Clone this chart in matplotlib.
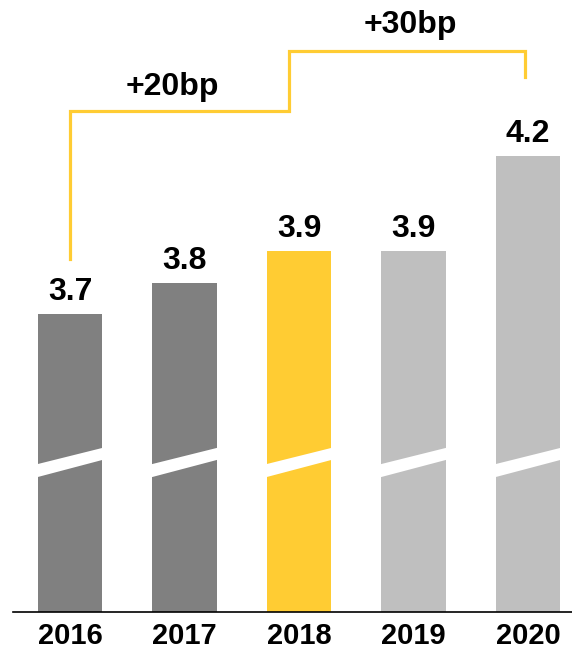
import matplotlib
matplotlib.use('Agg')
import matplotlib.pyplot as plt
from matplotlib.patches import Polygon

# ================== DATA ==================
years = ['2016', '2017', '2018', '2019', '2020']
values = [3.7, 3.8, 3.9, 3.9, 4.2]
value_labels = ['3.7', '3.8', '3.9', '3.9', '4.2']
colors = ['#808080', '#808080', '#FFCC33', '#BFBFBF', '#BFBFBF']
bracket_labels = ['+20bp', '+30bp']

YELLOW = '#FFCC33'
BAR_W = 0.56

plt.rcParams['font.family'] = ['Liberation Sans', 'DejaVu Sans']

fig = plt.figure(figsize=(5.72, 6.54), dpi=100)
# axes placed in pixel terms: left 13px, bottom 42px
ax = fig.add_axes([13 / 572, 42 / 654, 559 / 572, 612 / 654])

x = list(range(len(years)))
ax.bar(x, values, width=BAR_W, color=colors, zorder=2)

ax.set_xlim(-0.498, 4.384)
ax.set_ylim(2.760, 4.6926)

# broken-axis white slash across each bar
for xi in x:
    l, r = xi - BAR_W / 2 - 0.02, xi + BAR_W / 2 + 0.02
    slope = (3.2779 - 3.2274) / BAR_W
    y_up_l = 3.2274 - 0.02 * slope
    y_up_r = 3.2779 + 0.02 * slope
    y_lo_l = 3.1863 - 0.02 * slope
    y_lo_r = 3.2400 + 0.02 * slope
    ax.add_patch(Polygon([(l, y_lo_l), (r, y_lo_r), (r, y_up_r), (l, y_up_l)],
                         closed=True, facecolor='white', edgecolor='none', zorder=3))

# value labels
for xi, v, lab in zip(x, values, value_labels):
    ax.annotate(lab, (xi, v), xytext=(0, 5), textcoords='offset points',
                ha='center', va='bottom', fontsize=23, fontweight='bold')

# brackets
bx = [0, 0, 1.913, 1.913, 3.974, 3.974]
by = [values[0] + 0.175, 4.342, 4.342, 4.532, 4.532, values[4] + 0.249]
ax.plot(bx, by, color=YELLOW, linewidth=2.3, solid_joinstyle='miter', zorder=1)
ax.text(0.89, 4.418, bracket_labels[0], ha='center', va='center', fontsize=23, fontweight='bold')
ax.text(2.97, 4.614, bracket_labels[1], ha='center', va='center', fontsize=23, fontweight='bold')

# axes styling
for s in ['top', 'right', 'left']:
    ax.spines[s].set_visible(False)
ax.spines['bottom'].set_linewidth(1.2)
ax.spines['bottom'].set_color('black')
ax.set_yticks([])
ax.set_xticks(x)
ax.set_xticklabels(years, fontsize=21, fontweight='bold')
ax.tick_params(axis='x', length=0, pad=7)

plt.savefig('out.png', dpi=100)
plt.close()
